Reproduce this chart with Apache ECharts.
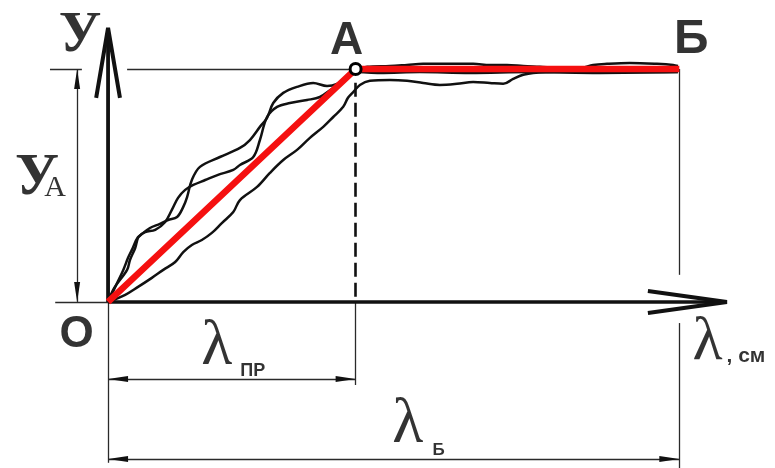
<!DOCTYPE html>
<html>
<head>
<meta charset="utf-8">
<script src="https://cdn.jsdelivr.net/npm/echarts@6/dist/echarts.min.js"></script>
<style>
  html, body { margin: 0; padding: 0; background: #fff; }
  #chart { width: 775px; height: 468px; }
</style>
</head>
<body>
<div id="chart"></div>
<script>
// Characteristic values of the diagram (λ in cm, y in relative units)
const lambdaPr = 52;   // λпр — abscissa of point А
const lambdaB = 120;   // λБ — abscissa of point Б
const yA = 85;         // уА — ordinate of the plateau
const xAxisEnd = 130;
const yAxisEnd = 100;

// Idealised broken line О – А – Б
const idealLine = [[0, 0], [lambdaPr, yA], [lambdaB, yA]];

// Measured curves y(λ)
const curve1 = [[0,0],[1.3,5.1],[4.0,11.7],[4.6,15.3],[5.7,19.7],[6.3,23.4],[7.1,24.8],[8.8,27.0],[10.9,28.5],
  [12.6,29.9],[14.5,31.0],[15.8,34.7],[16.6,38.3],[17.6,44.5],[19.3,49.3],[23.5,52.9],[27.7,56.2],[29.8,59.1],
  [31.9,63.9],[33.4,67.2],[34.7,72.6],[36.8,76.3],[39.7,78.5],[43.1,79.9],[46.0,78.8],[48.1,79.6],[50.4,82.5],
  [52.1,85.0],[54.4,85.8],[59.2,86.1],[62.8,86.5],[66.2,86.9],[69.7,86.9],[73.3,86.9],[76.7,86.9],[80.2,86.5],
  [83.8,86.5],[87.2,86.1],[90.7,85.8],[94.9,85.4],[99.1,85.4],[101.9,86.5],[104.8,86.9],[109.6,87.2],
  [115.3,86.9],[118.7,86.5],[119.7,86.1]];
const curve2 = [[0,0],[1.7,6.2],[3.2,11.7],[4.2,16.1],[5.0,19.0],[6.3,23.7],[7.8,25.5],[9.9,26.3],[12.0,29.2],
  [13.4,33.6],[14.7,38.0],[16.2,40.9],[17.9,42.7],[20.4,44.5],[23.1,46.4],[26.3,48.2],[27.7,50.0],[30.5,52.9],
  [31.9,59.1],[33.4,67.5],[35.5,71.2],[38.2,72.6],[41.8,73.7],[44.5,74.8],[47.3,78.1],[49.4,80.3],[52.1,83.9],
  [57.1,83.6],[65.5,83.9],[76.0,83.6],[88.6,83.9],[103.3,83.6],[119.7,83.9]];
const curve3 = [[0,0],[3.6,2.6],[6.3,5.5],[9.2,8.8],[11.6,11.7],[14.1,14.6],[15.8,18.2],[17.6,20.8],[19.7,22.6],
  [21.8,25.2],[23.9,28.8],[26.3,32.8],[27.7,37.2],[31.3,42.0],[34.0,47.1],[36.8,51.8],[39.7,55.5],[42.4,59.9],
  [45.2,63.9],[47.3,67.5],[49.4,71.2],[50.4,74.5],[51.5,76.6],[52.9,79.2],[55.0,80.7],[59.2,81.0],[62.8,80.7],
  [66.2,79.9],[69.7,79.2],[73.3,79.6],[76.7,80.3],[80.2,79.9],[83.0,79.6],[85.1,81.4],[87.2,82.9],[89.3,83.6],
  [94.9,83.9],[103.3,83.9],[111.7,83.9],[119.7,83.9]];

// Levels of the dimension lines below the λ axis
const dimPrLevel = -28.1;
const dimBLevel = -57.3;
const dimYAxisX = -6.5;

const black = '#111';
const thin = { color: '#2a2a2a', width: 1.3, opacity: 1 };

// Thin guide and dimension lines
const guideSegments = [
  [[-12.2, yA], [-5.5, yA]],
  [[4.0, yA], [lambdaPr, yA]],
  [[-11.1, 0], [0, 0]],
  [[dimYAxisX, 0], [dimYAxisX, yA]],
  [[lambdaB, yA], [lambdaB, 9.9]],
  [[lambdaB, -7.7], [lambdaB, -60.6]],
  [[0, 0], [0, -58.7]],
  [[lambdaPr, 0], [lambdaPr, -30.3]],
  [[0, dimPrLevel], [lambdaPr, dimPrLevel]],
  [[0, dimBLevel], [lambdaB, dimBLevel]]
];

// Arrowheads of the dimension lines: [x, y, screen dx, screen dy]
const dimArrows = [
  [dimYAxisX, yA, 0, -1], [dimYAxisX, 0, 0, 1],
  [0, dimPrLevel, -1, 0], [lambdaPr, dimPrLevel, 1, 0],
  [0, dimBLevel, -1, 0], [lambdaB, dimBLevel, 1, 0]
];

const serif = "'Liberation Serif', 'DejaVu Serif', serif";
const sans = "'Liberation Sans', Arial, sans-serif";

function textItem(x, y, text, offset, fontSize, fontFamily, fontWeight) {
  return {
    value: [x, y],
    label: {
      show: true, position: 'inside', formatter: text, offset: offset,
      fontSize: fontSize, fontFamily: fontFamily, fontWeight: fontWeight,
      color: '#000'
    }
  };
}

const textItems = [
  textItem(0, yAxisEnd, 'У', [-28, 8], 58, serif, 'bold'),
  textItem(dimYAxisX, yA / 2, 'У', [-40, -7], 60, serif, 'bold'),
  textItem(dimYAxisX, yA / 2, 'А', [-22, 3], 30, serif, 'normal'),
  textItem(lambdaPr, yA, 'А', [-9, -28], 46, sans, 'bold'),
  textItem(lambdaB, yA, 'Б', [12, -29], 48, sans, 'bold'),
  textItem(0, 0, 'О', [-31.5, 32.5], 44, sans, 'bold'),
  textItem(lambdaPr / 2, dimPrLevel, 'λ', [-15, -31.5], 64, serif, 'normal'),
  textItem(lambdaPr / 2, dimPrLevel, 'ПР', [21, -7.5], 18, sans, 'bold'),
  textItem(lambdaB / 2, dimBLevel, 'λ', [14, -34], 64, serif, 'normal'),
  textItem(lambdaB / 2, dimBLevel, 'Б', [45, -9], 17, sans, 'bold'),
  textItem(xAxisEnd, 0, 'λ', [-19.5, 40.5], 62, serif, 'normal'),
  textItem(xAxisEnd, 0, ', см', [19, 54], 21, sans, 'bold')
];

function plainLine(data, width, color, extra) {
  return Object.assign({
    type: 'line', data: data, showSymbol: false, symbol: 'none', silent: true,
    lineStyle: { color: color, width: width }, z: 2
  }, extra || {});
}

const chart = echarts.init(document.getElementById('chart'), null, { renderer: 'canvas' });
chart.setOption({
  animation: false,
  backgroundColor: '#fff',
  grid: { left: 0, right: 0, top: 0, bottom: 0, outerBoundsMode: 'none' },
  xAxis: { type: 'value', min: -22.7, max: 140.1, show: false },
  yAxis: { type: 'value', min: -60.6, max: 110.2, show: false },
  series: [
    {
      type: 'lines', coordinateSystem: 'cartesian2d', silent: true, z: 1,
      lineStyle: thin,
      data: guideSegments.map(c => ({ coords: c }))
    },
    {
      type: 'lines', coordinateSystem: 'cartesian2d', silent: true, z: 1,
      lineStyle: { color: black, width: 2.6, type: [14, 6], opacity: 1 },
      data: [{ coords: [[lambdaPr, 80], [lambdaPr, 0]] }]
    },
    {
      type: 'custom', silent: true, z: 3,
      data: dimArrows,
      encode: { x: 0, y: 1 },
      renderItem: function (params, api) {
        const p = api.coord([api.value(0), api.value(1)]);
        const dx = api.value(2), dy = api.value(3);
        const len = 20, hw = 3;
        const bx = p[0] - dx * len, by = p[1] - dy * len;
        return {
          type: 'polygon',
          shape: { points: [[p[0], p[1]], [bx - dy * hw, by + dx * hw], [bx + dy * hw, by - dx * hw]] },
          style: { fill: black }
        };
      }
    },
    // Coordinate axes with open arrowheads
    plainLine([[0, 0], [xAxisEnd, 0]], 3.5, black),
    plainLine([[0, 0], [0, yAxisEnd]], 3.8, black),
    plainLine([[113.4, 4], [xAxisEnd, 0], [113.4, -4]], 4, black),
    plainLine([[-2.5, 74.5], [0, yAxisEnd], [2.5, 74.5]], 4, black),
    // Measured curves
    plainLine(curve1, 2.5, black, { smooth: 0.35, z: 4 }),
    plainLine(curve2, 2.5, black, { smooth: 0.35, z: 4 }),
    plainLine(curve3, 2.5, black, { smooth: 0.35, z: 4 }),
    // Idealised broken line
    plainLine(idealLine, 6.5, '#f51010', { z: 5 }),
    {
      type: 'scatter', silent: true, z: 6,
      data: [[lambdaPr, yA]],
      symbol: 'circle', symbolSize: 11,
      itemStyle: { color: '#fff', borderColor: '#000', borderWidth: 3, opacity: 1 }
    },
    {
      type: 'scatter', silent: true, z: 7,
      symbolSize: 0,
      data: textItems
    }
  ]
});
</script>
</body>
</html>
